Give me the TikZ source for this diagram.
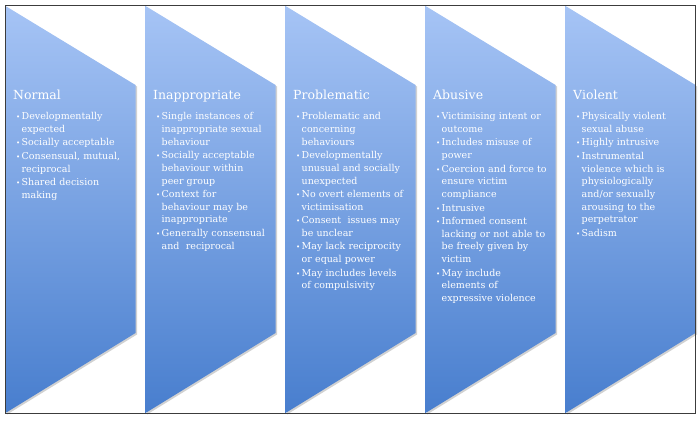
\documentclass[tikz,border=0pt]{standalone}
\usepackage{fontspec}
\setmainfont{DejaVu Serif}
\usetikzlibrary{positioning}
\definecolor{chevtop}{RGB}{166,196,245}
\definecolor{chevbot}{RGB}{72,126,206}
\definecolor{framegray}{RGB}{60,60,60}
\newcommand\bitem[1]{\par\hangindent=5.5pt\hangafter=1\noindent
  \makebox[5.5pt][l]{{\fontsize{7}{7}\selectfont\textbullet}}\strut#1\par}
\tikzset{
    chevron/.style={top color=chevtop, bottom color=chevbot},
    chevshadow/.style={fill=black, opacity=0.18},
    coltitle/.style={anchor=base west, inner sep=0pt, text=white,
        font=\fontsize{12.5}{15}\selectfont},
    colbody/.style={inner sep=0pt, text=white, text width=124pt, align=left,
        font=\fontsize{9.5}{12.7}\selectfont,
        execute at begin node=\setlength{\parskip}{0.8pt}},
}
\begin{document}
\begin{tikzpicture}[x=1pt, y=-1pt]
    \useasboundingbox (0,0) rectangle (700,420);
    % the five chevrons
    \foreach \i in {0,...,4} {
        \fill[chevshadow, xshift=1.5pt, yshift=-1.5pt]
            (5.5+140*\i,6) -- (135.5+140*\i,85) -- (135.5+140*\i,333) -- (5.5+140*\i,413) -- cycle;
        \shade[chevron]
            (5.5+140*\i,6) -- (135.5+140*\i,85) -- (135.5+140*\i,333) -- (5.5+140*\i,413) -- cycle;
    }
    \node[coltitle] (normal) at (13,99) {Normal};
    \node[colbody, below right=7pt and 3pt of normal.base west] (normal-list) {%
        \bitem{Developmentally\newline expected}
        \bitem{Socially acceptable}
        \bitem{Consensual, mutual,\newline reciprocal}
        \bitem{Shared decision\newline making}};
    \node[coltitle] (inappr) at (153,99) {Inappropriate};
    \node[colbody, below right=7pt and 3pt of inappr.base west] (inappr-list) {%
        \bitem{Single instances of\newline inappropriate sexual\newline behaviour}
        \bitem{Socially acceptable\newline behaviour within\newline peer group}
        \bitem{Context for\newline behaviour may be\newline inappropriate}
        \bitem{Generally consensual\newline and~ reciprocal}};
    \node[coltitle] (probl) at (293,99) {Problematic};
    \node[colbody, below right=7pt and 3pt of probl.base west] (probl-list) {%
        \bitem{Problematic and\newline concerning\newline behaviours}
        \bitem{Developmentally\newline unusual and socially\newline unexpected}
        \bitem{No overt elements of\newline victimisation}
        \bitem{Consent~ issues may\newline be unclear}
        \bitem{May lack reciprocity\newline or equal power}
        \bitem{May includes levels\newline of compulsivity}};
    \node[coltitle] (abusive) at (433,99) {Abusive};
    \node[colbody, below right=7pt and 3pt of abusive.base west] (abusive-list) {%
        \bitem{Victimising intent or\newline outcome}
        \bitem{Includes misuse of\newline power}
        \bitem{Coercion and force to\newline ensure victim\newline compliance}
        \bitem{Intrusive}
        \bitem{Informed consent\newline lacking or not able to\newline be freely given by\newline victim}
        \bitem{May include\newline elements of\newline expressive violence}};
    \node[coltitle] (violent) at (573,99) {Violent};
    \node[colbody, below right=7pt and 3pt of violent.base west] (violent-list) {%
        \bitem{Physically violent\newline sexual abuse}
        \bitem{Highly intrusive}
        \bitem{Instrumental\newline violence which is\newline physiologically\newline and/or sexually\newline arousing to the\newline perpetrator}
        \bitem{Sadism}};
    % outer frame
    \draw[framegray, line width=0.8pt] (5,5) rectangle (695,413);
\end{tikzpicture}
\end{document}
